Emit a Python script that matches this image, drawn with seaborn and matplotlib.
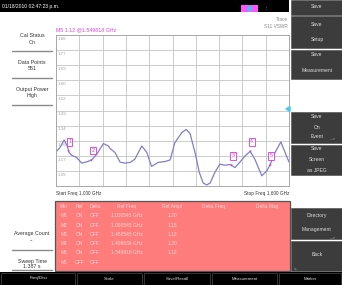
import numpy as np
import pandas as pd
import seaborn as sns
import matplotlib
matplotlib.use("Agg")
import matplotlib.pyplot as plt
from matplotlib.patches import Rectangle, Polygon

# Trace: S11 VSWR vs frequency (GHz)
freq = [1.000, 1.010, 1.021, 1.029, 1.034, 1.040, 1.053, 1.066, 1.079, 1.092,
        1.105, 1.122, 1.135, 1.139, 1.152, 1.165, 1.178, 1.191, 1.203, 1.221,
        1.234, 1.246, 1.263, 1.281, 1.294, 1.306, 1.324, 1.335, 1.345, 1.358,
        1.369, 1.379, 1.388, 1.397, 1.409, 1.422, 1.435, 1.448, 1.461, 1.474,
        1.487, 1.500, 1.512, 1.530, 1.543, 1.551, 1.564, 1.579, 1.590, 1.600]
vswr = [1.193, 1.218, 1.261, 1.227, 1.190, 1.175, 1.162, 1.130, 1.137, 1.148,
        1.180, 1.241, 1.227, 1.213, 1.190, 1.135, 1.130, 1.134, 1.152, 1.227,
        1.190, 1.111, 1.134, 1.139, 1.148, 1.246, 1.303, 1.321, 1.299, 1.190,
        1.077, 1.017, 1.006, 1.017, 1.077, 1.124, 1.118, 1.122, 1.105, 1.137,
        1.171, 1.197, 1.152, 1.058, 1.086, 1.120, 1.190, 1.250, 1.190, 1.136]

y_labels = ["1.86", "1.77", "1.69", "1.60", "1.52", "1.43", "1.34", "1.26", "1.17", "1.09"]

# marker table
mkr_names = ["M1", "M2", "M3", "M4", "M5", "M6"]
mkr_ref = ["ON", "ON", "ON", "ON", "ON", "OFF"]
mkr_delta = ["OFF", "OFF", "OFF", "OFF", "OFF", "OFF"]
mkr_freq = [1.030545, 1.090545, 1.450545, 1.499636, 1.549818, None]
mkr_ampl = [1.20, 1.15, 1.12, 1.20, 1.12, None]
table_cols = ["Mkr", "Ref", "Delta", "Ref Freq", "Ref Ampl", "Delta Freq", "Delta Mag"]

left_items = [("Cal Status", "On"), ("Data Points", "551"), ("Output Power", "High"),
              ("Average Count", "--"), ("Sweep Time", "1.387 s")]
bottom_tabs = ["Freq/Dist", "Scale", "Save/Recall", "Measurement", "Marker"]

W, H = 342, 285
sns.set_style("white")
plt.rcParams["font.family"] = ["Liberation Sans", "DejaVu Sans"]
fig = plt.figure(figsize=(W / 100, H / 100), dpi=100)
fig.patch.set_facecolor("white")


def fx(x):
    return x / W


def fy(y):
    return 1 - y / H


def box(x0, y0, x1, y1, **kw):
    fig.add_artist(Rectangle((fx(x0), fy(y1)), (x1 - x0) / W, (y1 - y0) / H,
                             transform=fig.transFigure, **kw))


def txt(x, y, s, **kw):
    kw.setdefault("va", "center")
    fig.text(fx(x), fy(y), s, **kw)


# top status bar
box(0, 0, 289, 12, color="black", lw=0)
txt(2, 6.5, "01/18/2010 02:47:23 p.m.", color="white", fontsize=3.6)
box(241, 5, 258, 12, color="#ff55ff", lw=0)
fig.add_artist(Polygon([(fx(250), fy(5.5)), (fx(247.5), fy(9)), (fx(250), fy(9)),
                        (fx(248.5), fy(11.5)), (fx(252), fy(8)), (fx(249.5), fy(8))],
                       closed=True, color="#33ccee", transform=fig.transFigure))
txt(266, 8, ":", color="white", fontsize=3.5)

# main plot
ax = fig.add_axes([fx(56), fy(186), 233 / W, 151 / H])
df = pd.DataFrame({"freq": freq, "vswr": vswr})
sns.lineplot(data=df, x="freq", y="vswr", ax=ax, color="#7f7fcc", lw=0.9)
ytop = 1.857
ax.set_xlim(1.0, 1.6)
ax.set_ylim(1.0, ytop)
ax.set_xticks(np.linspace(1.0, 1.6, 11))
ax.set_yticks(np.linspace(1.0, ytop, 11))
ax.grid(True, color="#c4c4c4", lw=0.6)
ax.tick_params(length=0, labelbottom=False, labelleft=False)
ax.set_xlabel("")
ax.set_ylabel("")
for s in ax.spines.values():
    s.set_color("#a8a8a8")
    s.set_linewidth(0.7)
step = (ytop - 1.0) / 10
for i, lab in enumerate(y_labels):
    ax.text(1.004, ytop - i * step - step * 0.12, lab, va="top", ha="left",
            fontsize=3.2, color="#a0a0a0")

for i, (f, a) in enumerate(zip(mkr_freq, mkr_ampl)):
    if f is None:
        continue
    ax.plot([f], [a], marker="v", ms=1.6, color="#dd33dd", mew=0)
    ax.annotate(str(i + 1), (f, a), xytext=(1.3, 6.5), textcoords="offset points",
                ha="center", va="center", fontsize=3.8, color="#dd33dd",
                bbox=dict(boxstyle="square,pad=0.25", fc="white", ec="#dd33dd", lw=0.6))

txt(56, 29.5, "M5 %.2f @%.6f GHz" % (mkr_ampl[4], mkr_freq[4]),
    color="#d844d8", fontsize=3.8)
txt(288, 19.5, "Trace", color="#888888", fontsize=3.4, ha="right")
txt(288, 26.5, "S11 VSWR", color="#888888", fontsize=3.4, ha="right")
txt(56, 193, "Start Freq %.3f GHz" % freq[0], color="#333333", fontsize=3.4)
txt(289, 193, "Stop Freq %.3f GHz" % freq[-1], color="#333333", fontsize=3.4, ha="right")
fig.add_artist(Polygon([(fx(286), fy(109)), (fx(290), fy(106.5)), (fx(290), fy(111.5))],
                       closed=True, color="#44ccee", transform=fig.transFigure))

# marker table
box(55, 201, 290, 271, fc="#ff7c7c", ec="#555555", lw=0.9)
col_x = [64, 79.5, 95, 126.5, 172, 213, 267]
row_y = [206.5 + 9.3 * k for k in range(7)]
tc = "#ffd6d6"
for cx, name in zip(col_x, table_cols):
    txt(cx, row_y[0], name, color=tc, fontsize=3.5, ha="center")
for r in range(len(mkr_names)):
    y = row_y[r + 1]
    txt(col_x[0], y, mkr_names[r], color=tc, fontsize=3.5, ha="center")
    txt(col_x[1], y, mkr_ref[r], color=tc, fontsize=3.5, ha="center")
    txt(col_x[2], y, mkr_delta[r], color=tc, fontsize=3.5, ha="center")
    if mkr_freq[r] is not None:
        txt(col_x[3], y, "%.6f GHz" % mkr_freq[r], color=tc, fontsize=3.5, ha="center")
        txt(col_x[4], y, "%.2f" % mkr_ampl[r], color=tc, fontsize=3.5, ha="center")

# left info column
left_y = [(36, 42, 51), (63, 69, 78), (89, 96, 105), (234, 241, 250), (261, 267, 269.5)]
for (t1, t2), (y1, y2, yl) in zip(left_items, left_y):
    txt(32, y1, t1, color="#333333", fontsize=3.8, ha="center")
    txt(32, y2, t2, color="#333333", fontsize=3.8, ha="center")
    fig.add_artist(plt.Line2D([fx(12), fx(52)], [fy(yl), fy(yl)], color="#8a8a8a",
                              lw=1.0, transform=fig.transFigure))

# right soft keys
keys = [(0, 14.5, [("Save", 7)]),
        (16.5, 48, [("Save", 24), ("Setup", 40)]),
        (50, 79, [("Save", 55), ("Measurement", 71)]),
        (112, 143, [("Save", 117), ("On", 127), ("Event", 137)]),
        (144.5, 175, [("Save", 149), ("Screen", 159.5), ("as JPEG", 170)]),
        (208, 239, [("Directory", 215), ("Management", 230)]),
        (240.5, 271, [("Back", 254)])]
for y0, y1, lines in keys:
    box(291, y0, 342, y1, fc="#3c3c3c", ec="#5a5a5a", lw=0.5)
    for s, y in lines:
        txt(317, y, s, color="#dddddd", fontsize=3.6, ha="center")
txt(333, 138, "--->", color="#cccccc", fontsize=2.6, ha="center")
txt(333, 237, "--->", color="#cccccc", fontsize=2.6, ha="center")
txt(296, 268, "<--", color="#cccccc", fontsize=2.6, ha="center")

# bottom menu bar
box(0, 272, 342, 285, color="black", lw=0)
seps = [0, 76, 143, 211, 278, 342]
for i, name in enumerate(bottom_tabs):
    box(seps[i] + 1, 272.5, seps[i + 1] - 1, 285, fc="black", ec="#4a4a4a", lw=0.5)
    txt((seps[i] + seps[i + 1]) / 2, 278.5, name, color="#dddddd", fontsize=3.2, ha="center")

fig.savefig("out.png", dpi=100)
